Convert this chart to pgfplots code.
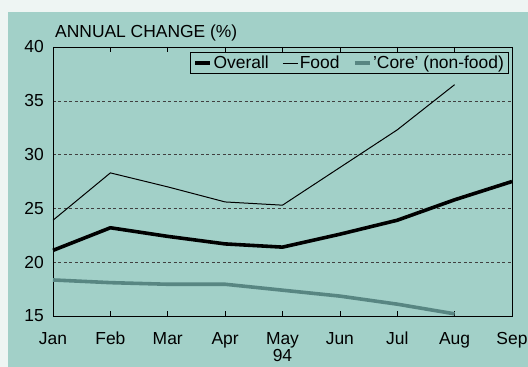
\documentclass[border=0pt]{standalone}
\usepackage{fontspec}
\setmainfont{Liberation Sans}
\usepackage{pgfplots}
\pgfplotsset{compat=1.18}
\definecolor{panel}{RGB}{162,208,200}
\definecolor{margin}{RGB}{238,245,243}
\definecolor{coreline}{RGB}{88,134,130}
\begin{document}
\begin{tikzpicture}[font=\fontsize{17.5}{19}\selectfont]
\useasboundingbox (0,0) rectangle (528bp,367bp);
\fill[margin] (0,0) rectangle (528bp,367bp);
\fill[panel] (8bp,0) rectangle (528bp,355bp);
\begin{axis}[
  at={(53bp,51bp)}, anchor=south west,
  scale only axis, width=459bp, height=269bp,
  xmin=0, xmax=8, ymin=15, ymax=40,
  xtick={0,...,8},
  xticklabels={Jan,Feb,Mar,Apr,May,Jun,Jul,Aug,Sep},
  ytick={15,20,...,40},
  axis line style={black, line width=0.9pt},
  major tick length=5bp,
  xtick align=inside,
  ytick style={draw=none},
  xtick style={black, line width=0.7pt},
  xticklabel style={inner sep=0pt, anchor=base, yshift=-28bp},
  yticklabel style={inner sep=0pt, xshift=-9bp},
  /pgf/number format/assume math mode=true,
  ymajorgrids,
  grid style={black!75, dash pattern=on 3pt off 2.5pt, line width=0.5pt},
  legend columns=-1,
  legend style={at={(0.9935,0.981)}, anchor=north east, fill=panel,
    draw=black, line width=1.2pt, inner xsep=3bp, inner ysep=1.8bp,
    nodes={inner sep=1.5bp},
    /tikz/every even column/.append style={column sep=12bp}},
  legend image code/.code={\draw[#1] (0bp,0bp) -- (15bp,0bp);},
  clip=false,
]
\addplot[black, line width=3.6pt, line join=round] coordinates {
(0,21.1) (1,23.2) (2,22.4) (3,21.7) (4,21.4) (5,22.6) (6,23.9) (7,25.8) (8,27.5)};
\addlegendentry{Overall}
\addplot[black, line width=1pt, line join=round] coordinates {
(0,23.9) (1,28.3) (2,27.0) (3,25.6) (4,25.3) (5,28.8) (6,32.3) (7,36.5)};
\addlegendentry{Food}
\addplot[coreline, line width=3.6pt, line join=round] coordinates {
(0,18.35) (1,18.1) (2,17.95) (3,17.95) (4,17.4) (5,16.85) (6,16.1) (7,15.2)};
\addlegendentry{'Core' (non-food)}
\node[anchor=base, inner sep=0pt, yshift=-45bp] at (axis cs:4,15) {94};
\end{axis}
\node[anchor=base west, inner sep=0pt] at (55bp,329bp) {ANNUAL CHANGE (\%)};
\end{tikzpicture}
\end{document}
